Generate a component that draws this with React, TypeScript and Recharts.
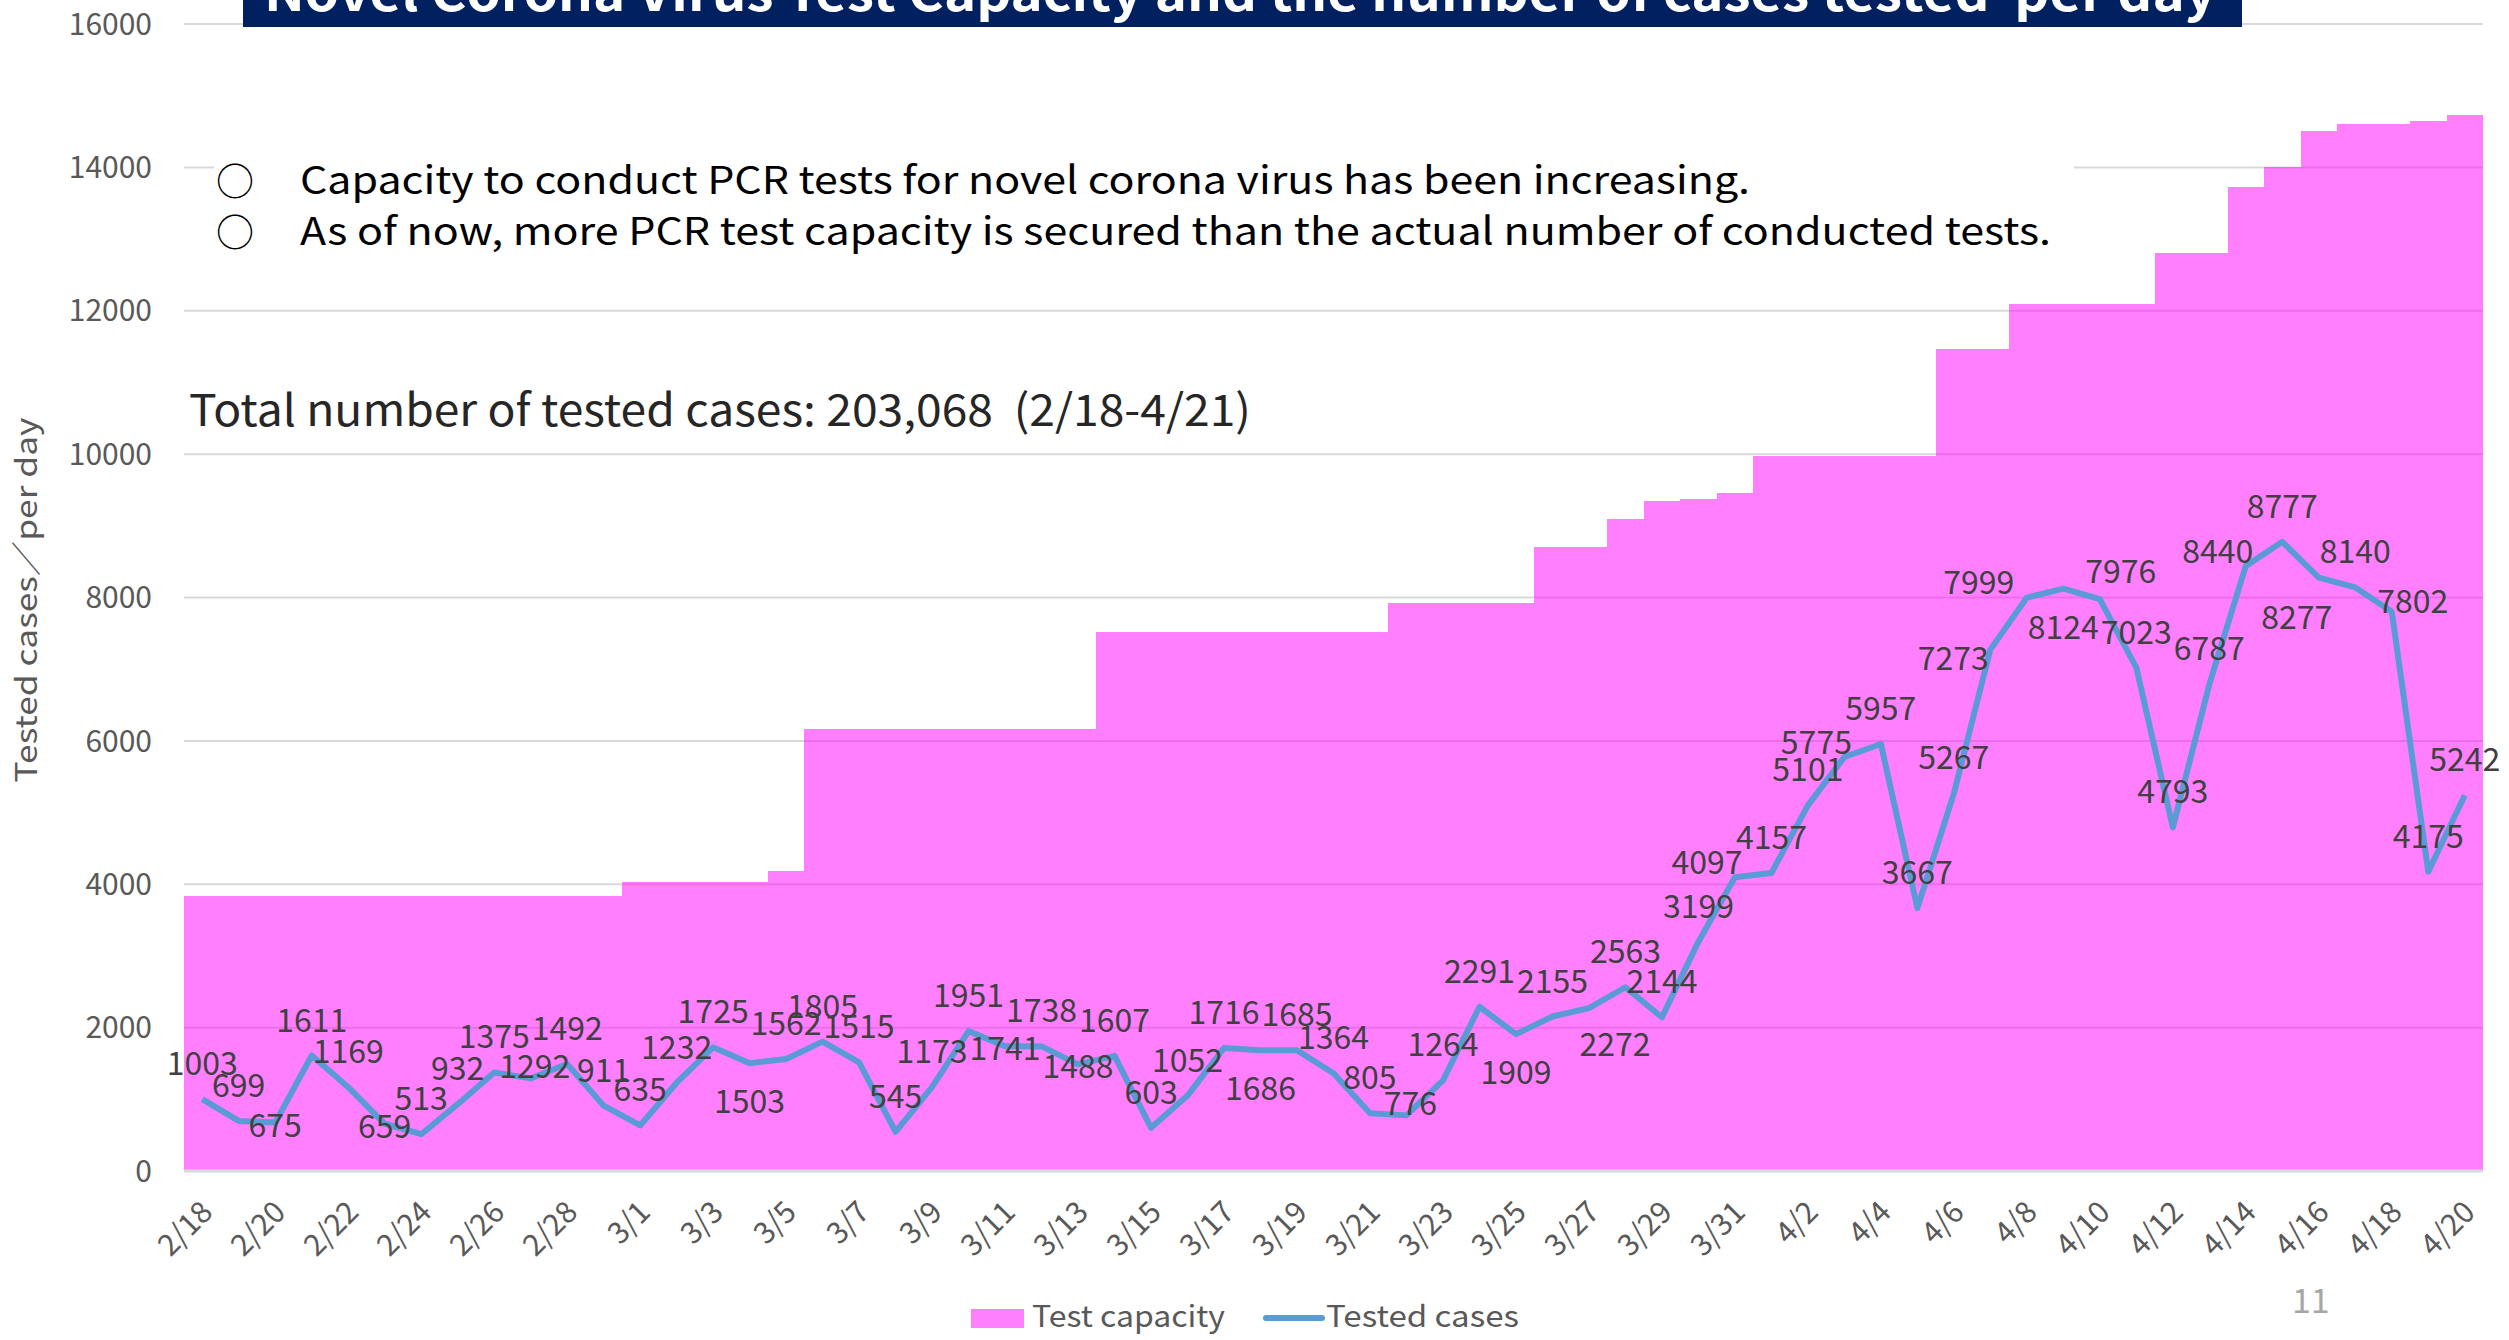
import React from 'react';
import { ComposedChart, Bar, Line, XAxis, YAxis, CartesianGrid } from 'recharts';

// daily PCR figures, 2/18 - 4/20
const dates = [
  '2/18', '2/19', '2/20', '2/21', '2/22', '2/23', '2/24', '2/25', '2/26', '2/27', '2/28', '2/29',
  '3/1', '3/2', '3/3', '3/4', '3/5', '3/6', '3/7', '3/8', '3/9', '3/10', '3/11', '3/12', '3/13',
  '3/14', '3/15', '3/16', '3/17', '3/18', '3/19', '3/20', '3/21', '3/22', '3/23', '3/24', '3/25',
  '3/26', '3/27', '3/28', '3/29', '3/30', '3/31',
  '4/1', '4/2', '4/3', '4/4', '4/5', '4/6', '4/7', '4/8', '4/9', '4/10', '4/11', '4/12', '4/13',
  '4/14', '4/15', '4/16', '4/17', '4/18', '4/19', '4/20',
];

const testedCases = [
  1003, 699, 675, 1611, 1169, 659, 513, 932, 1375, 1292, 1492, 911,
  635, 1232, 1725, 1503, 1562, 1805, 1515, 545, 1173, 1951, 1741, 1738, 1488,
  1607, 603, 1052, 1716, 1686, 1685, 1364, 805, 776, 1264, 2291, 1909,
  2155, 2272, 2563, 2144, 3199, 4097,
  4157, 5101, 5775, 5957, 3667, 5267, 7273, 7999, 8124, 7976, 7023, 4793, 6787,
  8440, 8777, 8277, 8140, 7802, 4175, 5242,
];

const testCapacity = [
  3830, 3830, 3830, 3830, 3830, 3830, 3830, 3830, 3830, 3830, 3830, 3830,
  4025, 4025, 4025, 4025, 4180, 6160, 6160, 6160, 6160, 6160, 6160, 6160, 6160,
  7520, 7520, 7520, 7520, 7520, 7520, 7520, 7520, 7920, 7920, 7920, 7920,
  8700, 8700, 9090, 9340, 9380, 9460,
  9980, 9980, 9980, 9980, 9980, 11460, 11460, 12100, 12100, 12100, 12100, 12810, 12810,
  13730, 14000, 14510, 14610, 14610, 14640, 14730,
];

const yTicks = [0, 2000, 4000, 6000, 8000, 10000, 12000, 14000, 16000];

// where each data label sits relative to its point
const labelSide = [
  'a', 'a', 'c', 'a', 'a', 'c', 'a', 'a', 'a', 'm', 'a', 'a',
  'a', 'a', 'a', 'b', 'a', 'a', 'a', 'a', 'a', 'a', 'c', 'a', 'c',
  'a', 'a', 'a', 'a', 'b', 'a', 'a', 'a', 'm', 'a', 'a', 'b',
  'a', 'br', 'a', 'a', 'a', 'al',
  'a', 'a', 'al', 'a', 'a', 'a', 'l', 'L', 'b', 'ar', 'a', 'a', 'a',
  'al', 'a', 'bl', 'a', 'r', 'a', 'a',
];
const SIDE_OFFSET: Record<string, [number, number]> = {
  a: [0, -38], b: [0, 36], c: [0, 0], m: [4, -14], br: [26, 34], al: [-28, -17],
  l: [-37, 6], L: [-48, -18], ar: [21, -30], bl: [-22, 37], r: [21, -13],
};

const W = 2509;
const H = 1340;
const PLOT_L = 184;
const PLOT_R = 2483;
const PLOT_T = 24;
const PLOT_B = 1171;
const Y_W = 120;
const X_H = 100;
const BAND = (PLOT_R - PLOT_L) / dates.length;

const FONT = "'Noto Sans CJK JP', 'Noto Sans', sans-serif";
const PINK = '#FF80FF';
const BLUE = '#5B9BD5';
const GREY = '#595959';

const data = dates.map((d, i) => ({ date: d, capacity: testCapacity[i], tested: testedCases[i] }));

const CapacityShape = (p: any) => (
  <rect x={p.x} y={p.y} width={BAND} height={p.height} fill="#FF00FF" fillOpacity={0.5} shapeRendering="crispEdges" />
);

const XTick = ({ x, y, payload }: any) => {
  const tx = x + 12;
  const ty = y + 41;
  return (
    <text x={tx} y={ty} transform={`rotate(-45 ${tx} ${ty})`} textAnchor="end" fontSize={30} fill={GREY} fontFamily={FONT}>
      {payload.value}
    </text>
  );
};

const PointLabel = ({ x, y, value, index }: any) => {
  const [dx, dy] = SIDE_OFFSET[labelSide[index]] || [0, -38];
  return (
    <text x={x + dx} y={y + dy} textAnchor="middle" dominantBaseline="central" fontSize={32} fill="#404040" fontFamily={FONT}>
      {value}
    </text>
  );
};

export default function App() {
  return (
    <div style={{ position: 'absolute', top: 0, left: 0, width: W, height: H, background: '#fff', overflow: 'hidden' }}>
      <ComposedChart
        width={W}
        height={H}
        data={data}
        barCategoryGap={0}
        barGap={0}
        margin={{ top: PLOT_T, right: W - PLOT_R, left: PLOT_L - Y_W, bottom: H - PLOT_B - X_H }}
      >
        <CartesianGrid horizontal vertical={false} stroke="#D9D9D9" strokeWidth={2} />
        <XAxis
          dataKey="date"
          interval={1}
          height={X_H}
          tick={<XTick />}
          tickLine={false}
          tickSize={0}
          axisLine={{ stroke: '#D9D9D9', strokeWidth: 3 }}
        />
        <YAxis
          width={Y_W}
          domain={[0, 16000]}
          ticks={yTicks}
          axisLine={false}
          tickLine={false}
          tickSize={0}
          tickMargin={32}
          tick={{ fontSize: 30, fill: GREY, fontFamily: FONT }}
        />
        <Bar dataKey="capacity" name="Test capacity" shape={CapacityShape} isAnimationActive={false} />
        <Line
          dataKey="tested"
          name="Tested cases"
          type="linear"
          stroke={BLUE}
          strokeWidth={6}
          strokeLinejoin="round"
          dot={false}
          activeDot={false}
          label={<PointLabel />}
          isAnimationActive={false}
        />
      </ComposedChart>

      <svg width={W} height={H} style={{ position: 'absolute', top: 0, left: 0, pointerEvents: 'none' }} fontFamily={FONT}>
        <defs>
          <clipPath id="titleClip">
            <rect x={243} y={0} width={1999} height={27} />
          </clipPath>
        </defs>
        <rect x={243} y={0} width={1999} height={27} fill="#002060" />
        <text x={264} y={11} fontSize={50} fontWeight={700} fill="#fff" clipPath="url(#titleClip)" textLength={1952} lengthAdjust="spacingAndGlyphs" style={{ whiteSpace: 'pre' }}>
          Novel Corona Virus Test Capacity and the number of cases tested  per day
        </text>

        <rect x={214} y={140} width={1860} height={125} fill="#fff" />
        <text x={235} y={195} fontSize={38} textAnchor="middle" fill="#000">○</text>
        <text x={300} y={194} fontSize={38} fill="#000" textLength={1450} lengthAdjust="spacingAndGlyphs">
          Capacity to conduct PCR tests for novel corona virus has been increasing.
        </text>
        <text x={235} y={246} fontSize={38} textAnchor="middle" fill="#000">○</text>
        <text x={300} y={245} fontSize={38} fill="#000" textLength={1751} lengthAdjust="spacingAndGlyphs">
          As of now, more PCR test capacity is secured than the actual number of conducted tests.
        </text>

        <text x={189} y={426} fontSize={44} fill="#262626" textLength={1062} lengthAdjust="spacingAndGlyphs" style={{ whiteSpace: 'pre' }}>
          Total number of tested cases: 203,068  (2/18-4/21)
        </text>

        <text x={24} y={600} fontSize={30} fill={GREY} textAnchor="middle" dominantBaseline="central" transform="rotate(-90 24 600)" textLength={365} lengthAdjust="spacingAndGlyphs">
          Tested cases／per day
        </text>

        <rect x={971} y={1309} width={53} height={19} fill={PINK} />
        <text x={1032} y={1327} fontSize={30} fill={GREY} textLength={193} lengthAdjust="spacingAndGlyphs">Test capacity</text>
        <line x1={1266} x2={1322} y1={1318} y2={1318} stroke={BLUE} strokeWidth={6} strokeLinecap="round" />
        <text x={1326} y={1327} fontSize={30} fill={GREY} textLength={193} lengthAdjust="spacingAndGlyphs">Tested cases</text>

        <text x={2292} y={1313} fontSize={34} fill="#A6A6A6">11</text>
      </svg>
    </div>
  );
}
